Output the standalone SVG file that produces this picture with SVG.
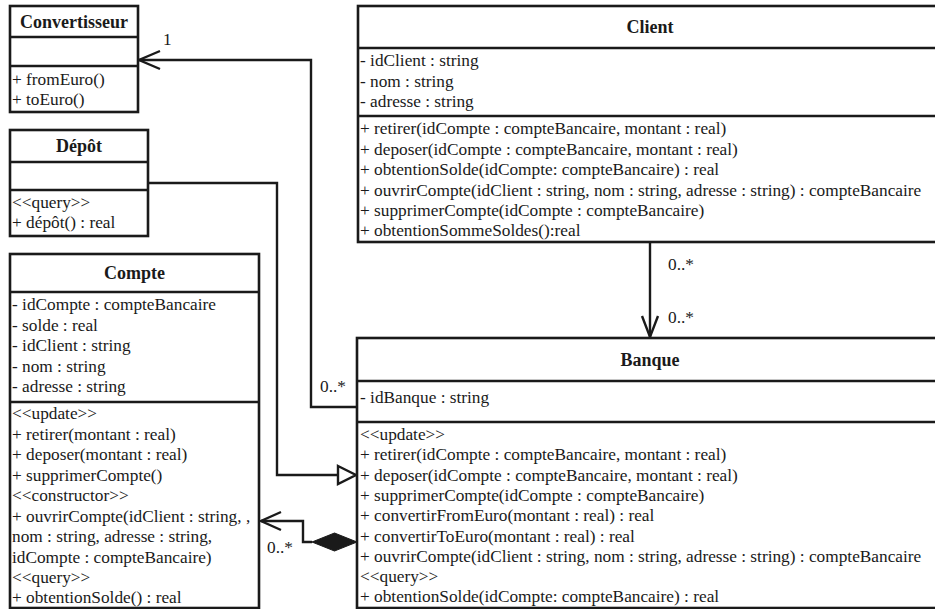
<svg xmlns="http://www.w3.org/2000/svg" width="935" height="609" viewBox="0 0 935 609">
<style>
text{font-family:'Liberation Serif','Times New Roman',serif;fill:#1a1a1a}
.box{fill:#fff;stroke:#1a1a1a;stroke-width:2.6}
.sep{stroke:#1a1a1a;stroke-width:2.6}
.t{font-size:17.3px}
.h{font-size:18px;font-weight:bold;text-anchor:middle}
.c{fill:none;stroke:#1a1a1a;stroke-width:2.4}
</style>
<rect width="935" height="609" fill="#fff"/>
<g id="connectors">
  <polyline class="c" points="357,407 311,407 311,60 139,60"/>
  <polyline class="c" points="160,51 139,60 160,69"/>
  <polyline class="c" points="148,183 277,183 277,475 338,475"/>
  <polygon class="c" fill="#fff" points="338,466 356,475 338,484"/>
  <polyline class="c" points="312,542 303,542 303,521 261,521"/>
  <polyline class="c" points="281,512 261,521 281,530"/>
  <polygon fill="#1a1a1a" stroke="#1a1a1a" stroke-width="1" points="312,542 334.5,533 357,542 334.5,551"/>
  <line class="c" x1="650" y1="242" x2="650" y2="337"/>
  <polyline class="c" points="642,316 650,337 658,316"/>
  <text class="t" x="163" y="45">1</text>
  <text class="t" x="320" y="392">0..*</text>
  <text class="t" x="267" y="553">0..*</text>
  <text class="t" x="668" y="270">0..*</text>
  <text class="t" x="668" y="323">0..*</text>
</g>
<g id="convertisseur">
  <rect class="box" x="10" y="6" width="128" height="106"/>
  <line class="sep" x1="10" y1="37" x2="138" y2="37"/>
  <line class="sep" x1="10" y1="66" x2="138" y2="66"/>
  <text class="h" x="74" y="28">Convertisseur</text>
  <text class="t" x="12" y="85">+ fromEuro()</text>
  <text class="t" x="12" y="105">+ toEuro()</text>
</g>
<g id="depot">
  <rect class="box" x="10" y="130" width="138" height="106"/>
  <line class="sep" x1="10" y1="162" x2="148" y2="162"/>
  <line class="sep" x1="10" y1="190" x2="148" y2="190"/>
  <text class="h" x="79" y="152">Dépôt</text>
  <text class="t" x="12" y="208">&lt;&lt;query&gt;&gt;</text>
  <text class="t" x="12" y="228">+ dépôt() : real</text>
</g>
<g id="compte">
  <rect class="box" x="10" y="254" width="249" height="354"/>
  <line class="sep" x1="10" y1="292" x2="259" y2="292"/>
  <line class="sep" x1="10" y1="402" x2="259" y2="402"/>
  <text class="h" x="134.5" y="279">Compte</text>
  <text class="t" x="12" y="310">- idCompte : compteBancaire</text>
  <text class="t" x="12" y="330.5">- solde : real</text>
  <text class="t" x="12" y="351">- idClient : string</text>
  <text class="t" x="12" y="371.5">- nom : string</text>
  <text class="t" x="12" y="392">- adresse : string</text>
  <text class="t" x="12" y="419">&lt;&lt;update&gt;&gt;</text>
  <text class="t" x="12" y="439.5">+ retirer(montant : real)</text>
  <text class="t" x="12" y="460">+ deposer(montant : real)</text>
  <text class="t" x="12" y="480.5">+ supprimerCompte()</text>
  <text class="t" x="12" y="501">&lt;&lt;constructor&gt;&gt;</text>
  <text class="t" x="12" y="521.5">+ ouvrirCompte(idClient : string, ,</text>
  <text class="t" x="12" y="542">nom : string, adresse : string,</text>
  <text class="t" x="12" y="562.5">idCompte : compteBancaire)</text>
  <text class="t" x="12" y="583">&lt;&lt;query&gt;&gt;</text>
  <text class="t" x="12" y="603">+ obtentionSolde() : real</text>
</g>
<g id="client">
  <rect class="box" x="358" y="6" width="584" height="236"/>
  <line class="sep" x1="358" y1="48" x2="942" y2="48"/>
  <line class="sep" x1="358" y1="116" x2="942" y2="116"/>
  <text class="h" x="650" y="33">Client</text>
  <text class="t" x="360" y="66">- idClient : string</text>
  <text class="t" x="360" y="86.5">- nom : string</text>
  <text class="t" x="360" y="107">- adresse : string</text>
  <text class="t" x="360" y="134">+ retirer(idCompte : compteBancaire, montant : real)</text>
  <text class="t" x="360" y="154.5">+ deposer(idCompte : compteBancaire, montant : real)</text>
  <text class="t" x="360" y="175">+ obtentionSolde(idCompte: compteBancaire) : real</text>
  <text class="t" x="360" y="195.5">+ ouvrirCompte(idClient : string, nom : string, adresse : string) : compteBancaire</text>
  <text class="t" x="360" y="216">+ supprimerCompte(idCompte : compteBancaire)</text>
  <text class="t" x="360" y="236">+ obtentionSommeSoldes():real</text>
</g>
<g id="banque">
  <rect class="box" x="357" y="338" width="585" height="270"/>
  <line class="sep" x1="357" y1="381" x2="942" y2="381"/>
  <line class="sep" x1="357" y1="422" x2="942" y2="422"/>
  <text class="h" x="650" y="366">Banque</text>
  <text class="t" x="360" y="403">- idBanque : string</text>
  <text class="t" x="360" y="440">&lt;&lt;update&gt;&gt;</text>
  <text class="t" x="360" y="460.3">+ retirer(idCompte : compteBancaire, montant : real)</text>
  <text class="t" x="360" y="480.6">+ deposer(idCompte : compteBancaire, montant : real)</text>
  <text class="t" x="360" y="500.9">+ supprimerCompte(idCompte : compteBancaire)</text>
  <text class="t" x="360" y="521.2">+ convertirFromEuro(montant : real) : real</text>
  <text class="t" x="360" y="541.5">+ convertirToEuro(montant : real) : real</text>
  <text class="t" x="360" y="561.8">+ ouvrirCompte(idClient : string, nom : string, adresse : string) : compteBancaire</text>
  <text class="t" x="360" y="582.1">&lt;&lt;query&gt;&gt;</text>
  <text class="t" x="360" y="602.4">+ obtentionSolde(idCompte: compteBancaire) : real</text>
</g>
</svg>
